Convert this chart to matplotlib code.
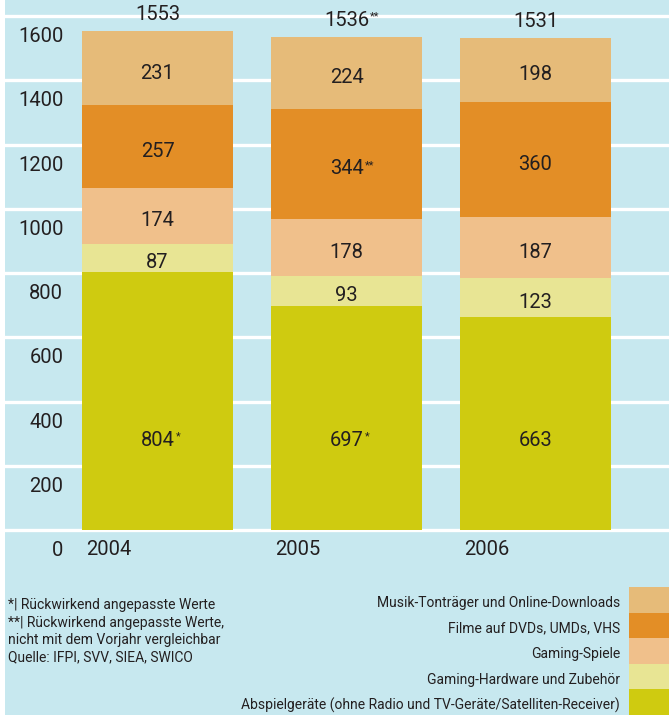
import matplotlib.pyplot as plt
from matplotlib.patches import Rectangle

plt.rcParams['font.family'] = ['Roboto', 'DejaVu Sans']

years = ["2004", "2005", "2006"]
categories = [
    "Abspielgeräte (ohne Radio und TV-Geräte/Satelliten-Receiver)",
    "Gaming-Hardware und Zubehör",
    "Gaming-Spiele",
    "Filme auf DVDs, UMDs, VHS",
    "Musik-Tonträger und Online-Downloads",
]
abspielgeraete = [804, 697, 663]
gaming_hardware = [87, 93, 123]
gaming_spiele = [174, 178, 187]
filme = [257, 344, 360]
musik = [231, 224, 198]
totals = [1553, 1536, 1531]

# footnote marks shown next to some numbers
marks_abspiel = ["*", "*", ""]
marks_filme = ["", "**", ""]
marks_totals = ["", "**", ""]

footnotes = [
    "*| Rückwirkend angepasste Werte",
    "**| Rückwirkend angepasste Werte,",
    "nicht mit dem Vorjahr vergleichbar",
    "Quelle: IFPI, SVV, SIEA, SWICO",
]
yticks = [0, 200, 400, 600, 800, 1000, 1200, 1400, 1600]

colors = ["#cfcb10", "#e8e594", "#f0c08b", "#e38e26", "#e6bb79"]
bg = "#c7e8ef"
txt = "#231f20"

series = [abspielgeraete, gaming_hardware, gaming_spiele, filme, musik]
marks = [marks_abspiel, [""] * 3, [""] * 3, marks_filme, [""] * 3]

W, H = 669, 715
fig = plt.figure(figsize=(W / 100, H / 100), dpi=100)
fig.patch.set_facecolor(bg)
# thin white strip at the left edge
fig.patches.append(Rectangle((0, 0), 5 / W, 1, transform=fig.transFigure,
                             facecolor="white", edgecolor="none", zorder=0))

ax = fig.add_axes([5 / W, 1 - 530 / H, 1 - 5 / W, 530 / H])
ax.set_facecolor(bg)
ax.set_xlim(-0.807, 2.706)
ax.set_ylim(0, 1650)
for s in ax.spines.values():
    s.set_visible(False)
ax.set_xticks([])
ax.set_yticks([])
for v in yticks:
    ax.axhline(v, color="white", lw=2.4, zorder=1, clip_on=False)

x = range(len(years))
bottom = [0, 0, 0]
label_texts = []
for vals, col, mk in zip(series, colors, marks):
    ax.bar(x, vals, 0.8, bottom=bottom, color=col, zorder=2)
    for i, v in enumerate(vals):
        if bottom[i] == 0:
            ypos = 280
        else:
            ypos = bottom[i] + v / 2 - 15
        t = ax.text(i, ypos, str(v), ha="center", va="center",
                    fontsize=14.5, color=txt, zorder=3)
        label_texts.append((t, mk[i]))
    bottom = [b + v for b, v in zip(bottom, vals)]

for i, tot in enumerate(totals):
    t = ax.annotate(str(tot), xy=(i, tot), xytext=(0, 5),
                    textcoords="offset points", ha="center", va="bottom",
                    fontsize=14.5, color=txt, zorder=3, annotation_clip=False)
    label_texts.append((t, marks_totals[i]))

# y tick labels sit just below their gridline
for v in yticks:
    ax.annotate(str(v), xy=(0, v), xycoords=("axes fraction", "data"),
                xytext=(42, -8), textcoords="offset points",
                ha="right", va="top", fontsize=14.5, color=txt,
                annotation_clip=False)

# year labels under the bars, left aligned with bar edge
for i, yr in enumerate(years):
    ax.annotate(yr, xy=(i - 0.4, 0), xytext=(3, -7),
                textcoords="offset points", ha="left", va="top",
                fontsize=14.5, color=txt, annotation_clip=False)

# small superscript stars
fig.canvas.draw()
renderer = fig.canvas.get_renderer()
for t, mk in label_texts:
    if not mk:
        continue
    bb = t.get_window_extent(renderer)
    fig.text((bb.x1 + 1) / W, (bb.y1 - 1) / H, mk, ha="left", va="top",
             fontsize=8, color=txt)

# footnotes
for k, line in enumerate(footnotes):
    fig.text(8 / W, 1 - (605 + k * 17.5) / H, line, ha="left", va="center",
             fontsize=10, color=txt)

# legend: swatches at the bottom right, labels right aligned
row_h = 25.6
for k, (cat, col) in enumerate(zip(categories, colors)):
    y0 = k * row_h
    fig.patches.append(Rectangle((629 / W, y0 / H), 40 / W, row_h / H,
                                 transform=fig.transFigure,
                                 facecolor=col, edgecolor="none"))
    fig.text(620 / W, (y0 + row_h / 2 - 3) / H, cat, ha="right",
             va="center", fontsize=10, color=txt)

fig.savefig("out.png", dpi=100, facecolor=fig.get_facecolor())
